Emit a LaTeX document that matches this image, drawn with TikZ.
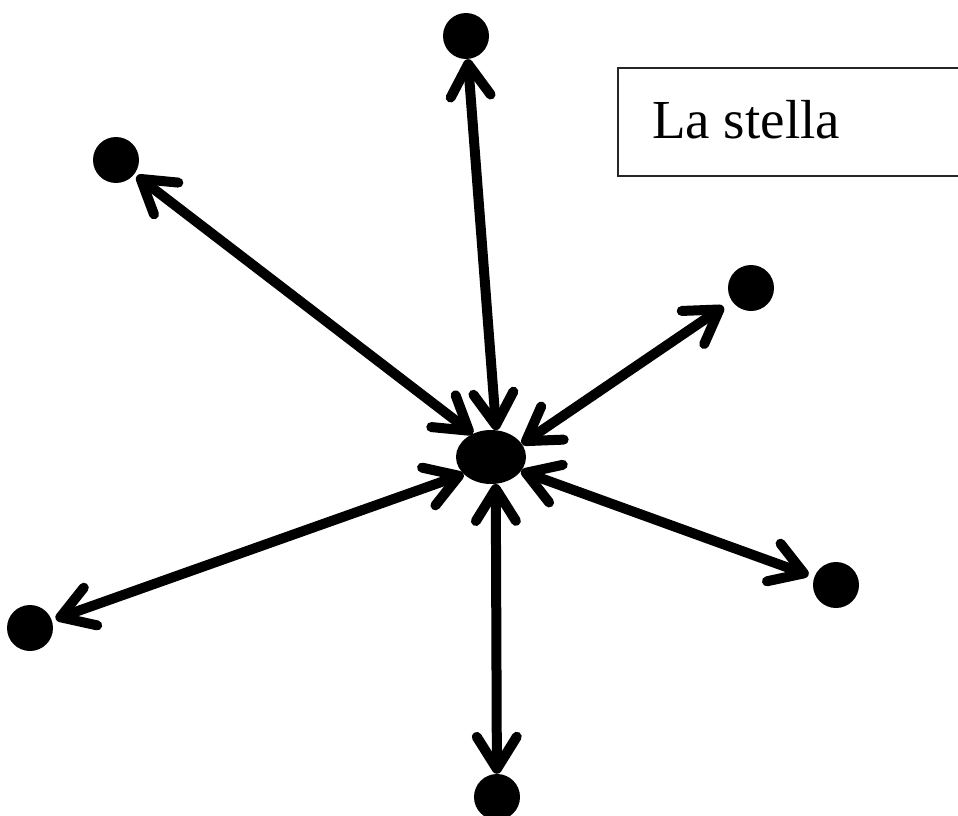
\documentclass[tikz,border=0pt]{standalone}
\usepackage{fontspec}
\setmainfont{Liberation Serif}
\usetikzlibrary{arrows.meta,shapes.geometric}
\tikzset{
  dot/.style={circle, fill=black, draw=none, minimum size=46pt, inner sep=0pt},
  hub/.style={ellipse, fill=black, draw=none, minimum width=70pt, minimum height=54pt, inner sep=0pt},
  dbl/.style={line width=10pt, line cap=round,
    {Straight Barb[length=32pt, width=40pt, line width=10pt, round]}-{Straight Barb[length=32pt, width=40pt, line width=10pt, round]}},
  frame/.style={line width=2.5pt, draw=black!85}
}
\begin{document}
\begin{tikzpicture}[x=1pt, y=-1pt]
\useasboundingbox (0,0) rectangle (958,816);
\clip (0,0) rectangle (958,816);
\fill[white] (0,0) rectangle (958,816);
% nodes
\node[hub] (c) at (491,457) {};
\node[dot] (top) at (466,36) {};
\node[dot] (ul) at (116,160) {};
\node[dot] (ur) at (751,288) {};
\node[dot] (lr) at (836,585) {};
\node[dot] (ll) at (30,628) {};
\node[dot] (bot) at (497,797) {};
% label box
\draw[frame] (970,68) -- (618,68) -- (618,176) -- (970,176);
\node[anchor=base west, inner sep=0pt, font=\fontsize{55}{60}\selectfont] (lbl) at (652,138) {La stella};
% connectors
\draw[dbl] (c.79) -- (top);
\draw[dbl, shorten >=3pt] (c.128) -- (ul);
\draw[dbl, shorten >=10pt] (c.23) -- (ur);
\draw[dbl, shorten >=6pt] (c.-25) -- (lr);
\draw[dbl, shorten >=4pt] (c.212) -- (ll);
\draw[dbl] (c.280) -- (bot);
\end{tikzpicture}
\end{document}
